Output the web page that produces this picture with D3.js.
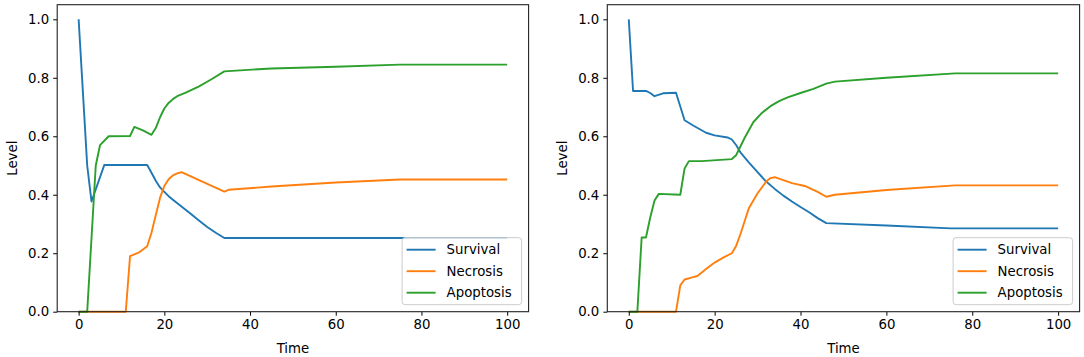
<!DOCTYPE html>
<html>
<head>
<meta charset="utf-8">
<script src="https://cdn.jsdelivr.net/npm/d3@7"></script>
<style>
  html, body { margin: 0; padding: 0; background: #fff; }
  svg { display: block; }
  text { font-family: "DejaVu Sans", sans-serif; fill: #000; }
</style>
</head>
<body>
<svg id="chart" width="1084" height="357"></svg>
<script>
// ---- data ----
const seriesNames = ["Survival", "Necrosis", "Apoptosis"];
const xTicks = [0, 20, 40, 60, 80, 100];
const yTicks = [0, 0.2, 0.4, 0.6, 0.8, 1.0];
const xLabel = "Time";
const yLabel = "Level";

// left panel: [time, level]
const leftSurvival = [[0,1.0],[1,0.75],[2,0.5],[3,0.377],[6,0.502],[16,0.502],[17,0.475],[18,0.448],[19,0.425],[20,0.41],[21,0.395],[22,0.383],[24,0.36],[26,0.337],[28,0.313],[30,0.29],[32,0.27],[34,0.252],[100,0.252]];
const leftNecrosis = [[0,0],[11,0],[12,0.19],[14,0.202],[16,0.224],[17,0.27],[18,0.33],[19,0.39],[20,0.43],[21,0.453],[22,0.466],[23,0.473],[24,0.477],[34,0.411],[35,0.417],[45,0.428],[60,0.442],[75,0.452],[100,0.452]];
const leftApoptosis = [[0,0],[2,0],[4,0.5],[5,0.57],[7,0.6],[12,0.601],[13,0.632],[15,0.62],[17,0.605],[18,0.628],[19,0.665],[20,0.695],[21,0.714],[22,0.727],[23,0.737],[25,0.749],[28,0.77],[31,0.795],[34,0.822],[45,0.832],[60,0.838],[75,0.845],[100,0.845]];

// right panel: [time, level]
const rightSurvival = [[0,1.0],[1,0.755],[4,0.755],[5,0.748],[6,0.737],[8,0.747],[11,0.749],[13,0.655],[15,0.637],[18,0.612],[20,0.603],[23,0.596],[24,0.589],[25,0.57],[26,0.545],[28,0.51],[30,0.477],[32,0.445],[34,0.42],[36,0.397],[38,0.377],[40,0.358],[42,0.34],[44,0.32],[46,0.303],[60,0.295],[75,0.285],[100,0.285]];
const rightNecrosis = [[0,0],[11,0],[12,0.09],[13,0.11],[15,0.118],[16,0.122],[18,0.146],[20,0.168],[22,0.185],[24,0.2],[25,0.225],[26,0.265],[27,0.31],[28,0.355],[30,0.405],[32,0.445],[33,0.457],[34,0.46],[36,0.45],[38,0.44],[41,0.43],[44,0.41],[46,0.393],[48,0.4],[60,0.416],[76,0.432],[100,0.432]];
const rightApoptosis = [[0,0],[2,0],[3,0.254],[4,0.254],[5,0.322],[6,0.38],[7,0.403],[12,0.40],[13,0.49],[14,0.515],[17,0.515],[24,0.522],[25,0.535],[27,0.595],[29,0.648],[31,0.68],[33,0.703],[35,0.72],[37,0.733],[40,0.748],[43,0.762],[46,0.78],[48,0.787],[60,0.8],[76,0.815],[100,0.815]];

// ---- styles / layout ----
const colors = ["#1f77b4", "#ff7f0e", "#2ca02c"];
const fontSize = 13.3;
const panels = [
  { left: 57.2, right: 528.6, series: [leftSurvival, leftNecrosis, leftApoptosis] },
  { left: 607.3, right: 1079.6, series: [rightSurvival, rightNecrosis, rightApoptosis] }
];
const plotTop = 4.7, plotBottom = 311.7;

const svg = d3.select("#chart");

panels.forEach(p => {
  const x = d3.scaleLinear().domain([-5, 105]).range([p.left, p.right]);
  const y = d3.scaleLinear().domain([0, 1.05]).range([plotBottom, plotTop]);
  const g = svg.append("g");

  // lines
  const line = d3.line().x(d => x(d[0])).y(d => y(d[1]));
  p.series.forEach((s, i) => {
    g.append("path")
      .attr("d", line(s))
      .attr("fill", "none")
      .attr("stroke", colors[i])
      .attr("stroke-width", 1.9)
      .attr("stroke-linejoin", "round")
      .attr("stroke-linecap", "butt");
  });

  // axes
  const xAxis = d3.axisBottom(x).tickValues(xTicks).tickSize(4).tickSizeOuter(0).tickPadding(4)
    .tickFormat(d3.format("d"));
  const gx = g.append("g").attr("transform", `translate(0,${plotBottom})`).call(xAxis);
  const yAxis = d3.axisLeft(y).tickValues(yTicks).tickSize(4).tickSizeOuter(0).tickPadding(4)
    .tickFormat(d3.format(".1f"));
  const gy = g.append("g").attr("transform", `translate(${p.left},0)`).call(yAxis);
  [gx, gy].forEach(a => {
    a.select(".domain").remove();
    a.selectAll(".tick line").attr("stroke", "#000").attr("stroke-width", 1);
    a.selectAll(".tick text").attr("font-size", fontSize).attr("font-family", "DejaVu Sans").attr("fill", "#000");
  });

  // frame
  g.append("rect")
    .attr("x", p.left).attr("y", plotTop)
    .attr("width", p.right - p.left).attr("height", plotBottom - plotTop)
    .attr("fill", "none").attr("stroke", "#222").attr("stroke-width", 1.1);

  // axis labels
  g.append("text")
    .attr("x", (p.left + p.right) / 2).attr("y", 353)
    .attr("text-anchor", "middle").attr("font-size", fontSize)
    .text(xLabel);
  g.append("text")
    .attr("transform", `translate(${p.left - 40},${(plotTop + plotBottom) / 2}) rotate(-90)`)
    .attr("text-anchor", "middle").attr("font-size", fontSize)
    .text(yLabel);

  // legend
  const lw = 119.5, lh = 67;
  const lx = p.right - 7 - lw, ly = plotBottom - 7 - lh;
  const lg = g.append("g").attr("transform", `translate(${lx},${ly})`);
  lg.append("rect")
    .attr("width", lw).attr("height", lh).attr("rx", 3)
    .attr("fill", "#fff").attr("fill-opacity", 0.8)
    .attr("stroke", "#ccc").attr("stroke-width", 1);
  seriesNames.forEach((name, i) => {
    const cy = 12 + i * 21.5;
    lg.append("line")
      .attr("x1", 4.5).attr("x2", 33.5).attr("y1", cy).attr("y2", cy)
      .attr("stroke", colors[i]).attr("stroke-width", 1.9);
    lg.append("text")
      .attr("x", 44.5).attr("y", cy).attr("dy", "0.35em")
      .attr("font-size", fontSize)
      .text(name);
  });
});
</script>
</body>
</html>
